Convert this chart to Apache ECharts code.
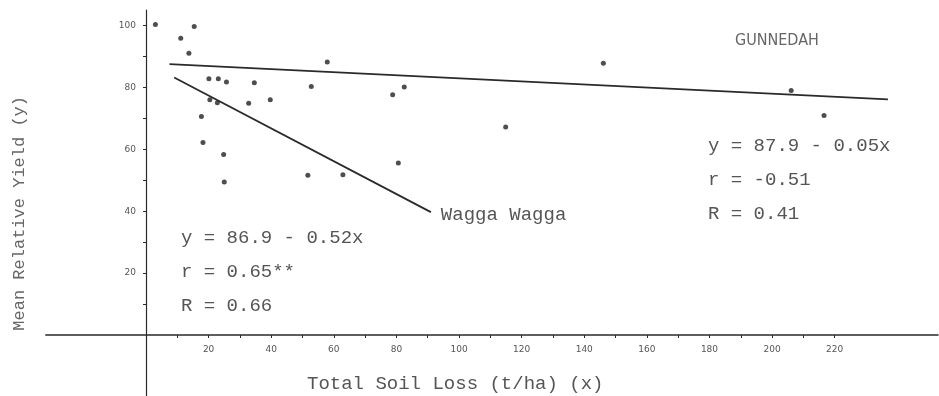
<!DOCTYPE html>
<html>
<head>
<meta charset="utf-8">
<script src="https://cdn.jsdelivr.net/npm/echarts@6/dist/echarts.min.js"></script>
<style>
  html, body { margin: 0; padding: 0; background: #fff; }
  #chart { width: 939px; height: 396px; }
</style>
</head>
<body>
<div id="chart"></div>
<script>
// Points: [soil loss (t/ha), mean relative yield]
const sitePoints = [
  [3, 100.3], [15.4, 99.7], [11.1, 95.9], [13.7, 91],
  [20.1, 82.8], [23.1, 82.8], [25.7, 81.7], [34.6, 81.5],
  [57.9, 88.2], [52.8, 80.3], [78.8, 77.6], [82.5, 80.1],
  [20.4, 76], [22.8, 75], [32.8, 74.9], [39.7, 76],
  [17.7, 70.6], [18.2, 62.2], [24.8, 58.3], [25, 49.4],
  [51.7, 51.6], [62.9, 51.8], [80.6, 55.6],
  [114.9, 67.2], [146.1, 87.8], [206.1, 79], [216.6, 70.9],
];

// Fitted lines, ends as drawn
const gunnedahFit = [[7.5, 87.5], [237, 76.1]];
const waggaFit = [[9, 83.2], [91, 39.7]];

const xTickValues = [10, 20, 30, 40, 50, 60, 70, 80, 90, 100, 110, 120, 130, 140, 150, 160, 170, 180, 190, 200, 210, 220];
const xLabelValues = [20, 40, 60, 80, 100, 120, 140, 160, 180, 200, 220];
const yTickValues = [10, 20, 30, 40, 50, 60, 70, 80, 90, 100];
const yLabelValues = [20, 40, 60, 80, 100];

const waggaText = ['y = 86.9 - 0.52x', 'r = 0.65**', 'R = 0.66'];
const gunnedahText = ['y = 87.9 - 0.05x', 'r = -0.51', 'R = 0.41'];

const MONO = '"Liberation Mono", "DejaVu Sans Mono", monospace';
const INK = '#2a2a2a';
const TEXT_GREY = '#555';

const chart = echarts.init(document.getElementById('chart'));

const textBlock = (lines, left, top, gap) => lines.map((t, i) => ({
  type: 'text',
  left: left,
  top: top + i * gap,
  style: { text: t, font: '19px ' + MONO, fill: TEXT_GREY },
}));

const tickLabel = { color: '#555', fontSize: 9, fontFamily: 'DejaVu Sans' };

chart.setOption({
  animation: false,
  grid: [
    // plotting area, origin at the axes crossing
    { left: 146, right: 1, top: 10, bottom: 61, outerBoundsMode: 'none' },
    // the axis lines run on past the origin, this grid only draws them
    { left: 45.83, right: 1, top: 10, bottom: -0.875, outerBoundsMode: 'none' },
  ],
  xAxis: [
    {
      type: 'value',
      gridIndex: 0,
      min: 0,
      max: 253,
      splitLine: { show: false },
      axisLine: { show: false },
      axisTick: { show: true, customValues: xTickValues, length: 3, lineStyle: { color: INK } },
      axisLabel: Object.assign({ customValues: xLabelValues, margin: 10 }, tickLabel),
    },
    {
      type: 'value',
      gridIndex: 1,
      min: -32,
      max: 253,
      splitLine: { show: false },
      axisLine: { show: true, onZero: true, lineStyle: { color: INK, width: 1.6 } },
      axisTick: { show: false },
      axisLabel: { show: false },
    },
  ],
  yAxis: [
    {
      type: 'value',
      gridIndex: 0,
      min: 0,
      max: 105,
      splitLine: { show: false },
      axisLine: { show: false },
      axisTick: { show: true, customValues: yTickValues, length: 3, lineStyle: { color: INK } },
      axisLabel: Object.assign({ customValues: yLabelValues, margin: 10 }, tickLabel),
    },
    {
      type: 'value',
      gridIndex: 1,
      min: -20,
      max: 105,
      splitLine: { show: false },
      axisLine: { show: true, onZero: true, lineStyle: { color: INK, width: 1.2 } },
      axisTick: { show: false },
      axisLabel: { show: false },
    },
  ],
  series: [
    {
      name: 'Sites',
      type: 'scatter',
      data: sitePoints,
      symbol: 'circle',
      symbolSize: 5,
      itemStyle: { color: '#222' },
    },
    {
      name: 'Gunnedah',
      type: 'line',
      data: gunnedahFit,
      showSymbol: false,
      lineStyle: { color: INK, width: 1.8 },
    },
    {
      name: 'Wagga Wagga',
      type: 'line',
      data: waggaFit,
      showSymbol: false,
      lineStyle: { color: INK, width: 1.8 },
      endLabel: {
        show: true,
        formatter: 'Wagga Wagga',
        color: TEXT_GREY,
        fontFamily: MONO,
        fontSize: 19,
        distance: 10,
        offset: [0, 3],
      },
    },
  ],
  graphic: [
    {
      type: 'text',
      left: 11,
      top: 96,
      rotation: Math.PI / 2,
      style: { text: 'Mean Relative Yield (y)', font: '17px ' + MONO, fill: '#666' },
    },
    {
      type: 'text',
      left: 307,
      top: 374,
      style: { text: 'Total Soil Loss (t/ha) (x)', font: '19px ' + MONO, fill: '#555' },
    },
    {
      type: 'text',
      left: 735,
      top: 33,
      style: { text: 'GUNNEDAH', font: '16px "DejaVu Sans Condensed", "DejaVu Sans", sans-serif', fill: '#666' },
    },
    ...textBlock(waggaText, 181, 228, 34),
    ...textBlock(gunnedahText, 708, 136, 34),
  ],
});
</script>
</body>
</html>
